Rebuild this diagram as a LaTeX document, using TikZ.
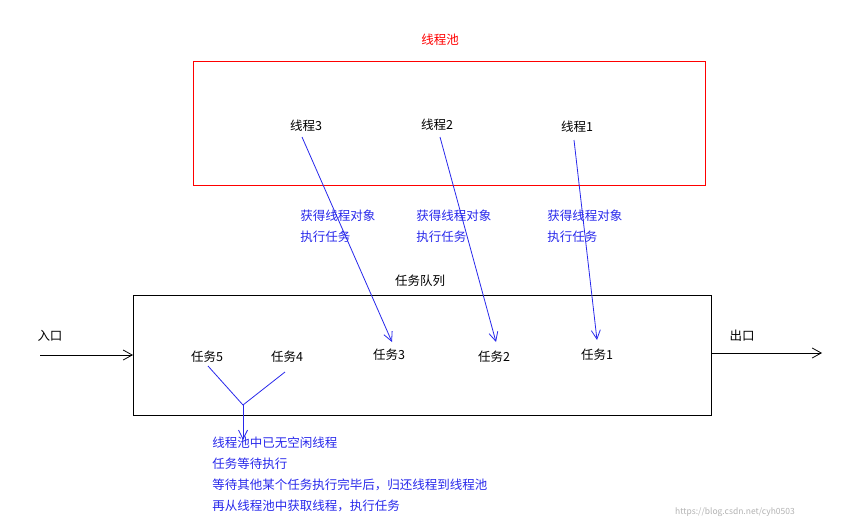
\documentclass[tikz,border=0pt]{standalone}
\usepackage{fontspec}
\setmainfont{Noto Sans CJK SC}
\usetikzlibrary{arrows.meta,positioning}
\definecolor{linkblue}{RGB}{40,40,235}
\tikzset{
  lbl/.style={inner sep=0pt,font=\fontsize{12.5}{14}\selectfont},
  note/.style={lbl,text=linkblue,align=left,anchor=north west,font=\fontsize{12.5}{21}\selectfont},
  flow/.style={linkblue,line width=0.8pt,-{Straight Barb[length=9pt,width=9pt]}},
}
\begin{document}
\begin{tikzpicture}[x=1pt,y=-1pt,line width=0.8pt]
\useasboundingbox (0,0) rectangle (841,530);
% pool
\draw[color=red] (193,61) -- (705,61) -- (705,185) -- (193,185) -- cycle;
\node[lbl,text=red] (pool) at (440,40) {线程池};
\node[lbl] (t3) at (306,126) {线程3};
\node[lbl] (t2) at (437,125) {线程2};
\node[lbl] (t1) at (577,127) {线程1};
\node[note] (n3) at (300,210) {获得线程对象\\执行任务};
\node[note] (n2) at (416,210) {获得线程对象\\执行任务};
\node[note] (n1) at (547,210) {获得线程对象\\执行任务};
% queue
\node[lbl] (queue) at (420,281) {任务队列};
\draw (133,295) rectangle (711,415);
\node[lbl] (in) at (50,336) {入口};
\node[lbl] (out) at (742,336) {出口};
\coordinate (inA) at (40,355);
\coordinate (inB) at (133,355);
\coordinate (outA) at (711,353);
\coordinate (outB) at (822,353);
\draw[-{Straight Barb[length=9pt,width=10pt]}] (inA) -- (inB);
\draw[-{Straight Barb[length=9pt,width=10pt]}] (outA) -- (outB);
\node[lbl] (q5) at (207,357) {任务5};
\node[lbl] (q4) at (287,357) {任务4};
\node[lbl] (q3) at (389,355) {任务3};
\node[lbl] (q2) at (494,357) {任务2};
\node[lbl] (q1) at (597,355) {任务1};
% fetch
\draw[flow] (302,137) -- (392,342);
\draw[flow] (440,137) -- (496,342);
\draw[flow] (574,140) -- (597,340);
% waiting
\coordinate (fork) at (243,405);
\coordinate (wait) at (243,440);
\draw[linkblue] (208,366) -- (fork);
\draw[linkblue] (285,372) -- (fork);
\draw[flow] (fork) -- (wait);
\node[note] (msg) at (212,437) {线程池中已无空闲线程\\任务等待执行\\等待其他某个任务执行完毕后，归还线程到线程池\\再从线程池中获取线程，执行任务};
\node[lbl,text=gray!60,font=\fontsize{8.5}{10}\selectfont] (mark) at (735,512) {https://blog.csdn.net/cyh0503};
\end{tikzpicture}
\end{document}
